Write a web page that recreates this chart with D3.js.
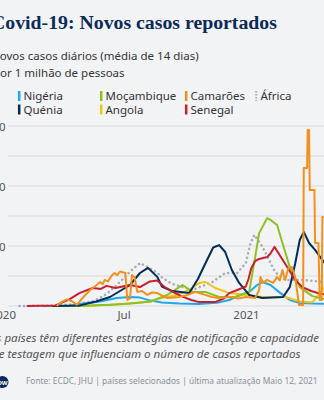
<!DOCTYPE html>
<html>
<head>
<meta charset="utf-8">
<script src="https://cdn.jsdelivr.net/npm/d3@7"></script>
<style>
  body { margin: 0; background: #f2f3f5; }
  svg { display: block; }
</style>
</head>
<body>
<script>
/* Covid-19 : novos casos por milhao (media 14 dias) */

var widthMax = 324;
var heightMax = 400;

var countries = ["Nigéria", "Quénia", "Moçambique", "Angola", "Camarões", "Senegal", "África"];
var colors = ["#1ba8ee", "#002b5c", "#8bc220", "#f1c319", "#f3901c", "#c8202f", "#a8acb1"];

var nigeria = [["2020-03-01",0],["2020-04-10",0.1],["2020-05-01",0.8],["2020-05-26",1.5],["2020-06-20",2.7],["2020-07-10",3],["2020-07-25",2.8],["2020-08-10",1.8],["2020-08-27",1.2],["2020-09-22",0.8],["2020-10-22",0.7],["2020-11-21",1.2],["2020-12-06",2],["2020-12-21",3.5],["2021-01-05",4.7],["2021-01-17",7],["2021-01-25",8],["2021-02-06",7],["2021-02-21",4.3],["2021-03-07",2],["2021-03-22",1],["2021-04-10",0.8],["2021-05-10",0.7]];
var quenia = [["2020-03-15",0],["2020-04-26",0.2],["2020-05-20",1.5],["2020-06-10",3],["2020-06-25",5],["2020-07-10",7],["2020-07-25",11],["2020-08-06",12.7],["2020-08-20",9.7],["2020-08-27",6.5],["2020-09-11",5],["2020-10-07",4.3],["2020-10-20",9],["2020-11-02",15],["2020-11-12",19.5],["2020-11-21",20.3],["2020-11-30",18],["2020-12-10",12],["2020-12-21",7.7],["2021-01-05",3.7],["2021-01-25",2.7],["2021-02-25",3],["2021-03-07",6.3],["2021-03-15",14],["2021-03-22",22],["2021-03-28",24.7],["2021-04-05",21],["2021-04-14",18.7],["2021-04-25",15.3],["2021-05-10",11]];
var mocambique = [["2020-03-22",0],["2020-05-01",0.1],["2020-06-10",0.4],["2020-07-10",0.8],["2020-08-10",1.5],["2020-09-04",3.7],["2020-09-27",7],["2020-10-12",4.7],["2020-10-31",4.7],["2020-11-21",3],["2020-12-15",3],["2021-01-05",4.7],["2021-01-14",16.3],["2021-01-20",24.3],["2021-02-01",29.3],["2021-02-06",28.7],["2021-02-16",27],["2021-02-24",21],["2021-03-07",13],["2021-03-22",6.3],["2021-04-10",3.3],["2021-04-28",2.3],["2021-05-10",2.2]];
var angola = [["2020-03-22",0],["2020-05-10",0.1],["2020-06-20",0.5],["2020-07-20",1],["2020-08-10",1.5],["2020-08-27",2.7],["2020-09-15",3.5],["2020-10-07",5.3],["2020-10-22",7.7],["2020-10-31",8],["2020-11-15",6],["2020-12-06",4.3],["2020-12-31",3.7],["2021-01-25",3],["2021-02-28",3],["2021-03-22",1.5],["2021-04-10",1.2],["2021-04-20",4],["2021-04-28",6.3],["2021-05-10",7.5]];
var camaroes = [["2020-03-22",0],["2020-03-27",1],["2020-04-06",2.2],["2020-04-14",1.6],["2020-04-21",0.4],["2020-05-01",3],["2020-05-12",5.5],["2020-05-21",7],["2020-05-26",8],["2020-05-30",7.3],["2020-06-02",8.7],["2020-06-07",8.2],["2020-06-12",10],["2020-06-17",11],["2020-06-21",10.3],["2020-06-25",11.5],["2020-07-03",11],["2020-07-06",2],["2020-07-10",2.5],["2020-07-13",10.3],["2020-07-17",9.5],["2020-07-21",4.7],["2020-07-28",5],["2020-08-05",3.7],["2020-08-12",4.5],["2020-08-20",4.3],["2020-09-04",2.7],["2020-09-22",3],["2020-10-05",3.7],["2020-10-16",4.7],["2020-10-31",3.7],["2020-11-10",3],["2020-11-21",2.7],["2020-12-06",3],["2020-12-20",2.5],["2020-12-31",3],["2021-01-14",2.7],["2021-01-20",5.3],["2021-01-22",9.7],["2021-01-26",7.7],["2021-02-01",8.7],["2021-02-10",7.7],["2021-02-16",9.7],["2021-02-20",8.5],["2021-02-24",12],["2021-02-28",8.7],["2021-03-05",12.7],["2021-03-10",13],["2021-03-15",9.7],["2021-03-21",0.3],["2021-03-27",0.3],["2021-03-28",46],["2021-04-02",46],["2021-04-03",58.7],["2021-04-05",58.7],["2021-04-06",38.7],["2021-04-13",38.7],["2021-04-14",21],["2021-04-19",21],["2021-04-21",2],["2021-04-24",2],["2021-04-25",29.7],["2021-05-10",29.7]];
var senegal = [["2020-02-06",0],["2020-03-20",0.2],["2020-04-10",2.2],["2020-04-25",4.3],["2020-05-15",6],["2020-05-27",5.7],["2020-06-05",6.7],["2020-06-18",6],["2020-07-10",7],["2020-07-25",6.3],["2020-08-09",8.2],["2020-08-20",8.5],["2020-08-30",6.5],["2020-09-10",5],["2020-09-25",3.3],["2020-10-10",2],["2020-10-22",1.3],["2020-11-15",1.3],["2020-11-28",2.5],["2020-12-06",4.3],["2020-12-20",5.5],["2020-12-31",6.5],["2021-01-04",9],["2021-01-08",12.5],["2021-01-14",15],["2021-01-20",15.7],["2021-02-01",16.3],["2021-02-06",17.5],["2021-02-12",19.7],["2021-02-24",15.5],["2021-03-06",12],["2021-03-14",9],["2021-03-26",6.3],["2021-04-08",5],["2021-04-20",4.2],["2021-05-10",3.5]];
var africa = [["2020-01-26",0],["2020-03-11",0.1],["2020-04-11",0.5],["2020-05-15",1.5],["2020-06-05",4],["2020-06-25",8],["2020-07-10",11.5],["2020-07-25",14.3],["2020-08-06",13],["2020-08-20",11],["2020-08-27",9.5],["2020-09-10",7.5],["2020-10-12",5.3],["2020-11-11",8],["2020-11-30",11],["2020-12-18",11],["2020-12-31",14.3],["2021-01-07",21],["2021-01-13",23.7],["2021-01-25",19.7],["2021-02-04",15.3],["2021-02-13",11.3],["2021-02-28",8.7],["2021-03-25",8.7],["2021-04-28",8],["2021-05-10",7.7]];

var series = [nigeria, quenia, mocambique, angola, camaroes, senegal, africa];

var yTicks = [10, 20, 30, 40, 50, 60];
var yLabels = [20, 40, 60];
var xTicks = [["2020-01-01", "2020"], ["2020-07-01", "Jul"], ["2021-01-01", "2021"]];

var parse = d3.timeParse("%Y-%m-%d");
var sans = "'Noto Sans', 'Open Sans', sans-serif";

var svgContainer = d3.select("body").append("svg")
	.attr("width", widthMax)
	.attr("height", heightMax);

var x = d3.scaleTime()
	.domain([parse("2020-07-01"), parse("2021-01-01")])
	.range([124, 246.5]);

var y = d3.scaleLinear()
	.domain([0, 60])
	.range([306, 126]);

// titre
svgContainer.append("text")
	.attr("x", -9)
	.attr("y", 29)
	.attr("font-family", "'Liberation Serif', serif")
	.attr("font-weight", "bold")
	.attr("font-size", 19.8)
	.attr("fill", "#0b2a57")
	.text("Covid-19: Novos casos reportados");

svgContainer.append("text")
	.attr("x", -9)
	.attr("y", 60)
	.attr("font-family", sans)
	.attr("font-size", 11.5)
	.attr("fill", "#333")
	.text("Novos casos diários (média de 14 dias)");

svgContainer.append("text")
	.attr("x", -7)
	.attr("y", 77)
	.attr("font-family", sans)
	.attr("font-size", 11.5)
	.attr("fill", "#333")
	.text("por 1 milhão de pessoas");

// legende
var legendPos = [[18, 96], [18, 109.5], [100, 96], [100, 109.5], [185, 96], [185, 109.5], [255, 96]];
var legend = svgContainer.selectAll(".leg")
	.data(countries)
	.enter().append("g")
	.attr("transform", function(d, i) { return "translate(" + legendPos[i][0] + "," + legendPos[i][1] + ")"; });

legend.append("line")
	.attr("x1", 1.2).attr("x2", 1.2)
	.attr("y1", -5).attr("y2", 5)
	.attr("stroke", function(d, i) { return colors[i]; })
	.attr("stroke-width", function(d, i) { return i == 6 ? 2 : 2.5; })
	.attr("stroke-dasharray", function(d, i) { return i == 6 ? "1.5 1.5" : null; });

legend.append("text")
	.attr("x", 5.5)
	.attr("y", 4)
	.attr("font-family", sans)
	.attr("font-size", 11.5)
	.attr("fill", "#333")
	.text(function(d) { return d; });

// grille
svgContainer.selectAll(".grid")
	.data([0].concat(yTicks))
	.enter().append("line")
	.attr("x1", 8)
	.attr("x2", widthMax)
	.attr("y1", function(d) { return y(d); })
	.attr("y2", function(d) { return y(d); })
	.attr("stroke", "#d8dbdf")
	.attr("stroke-width", 1);

svgContainer.selectAll(".ylab")
	.data(yLabels)
	.enter().append("text")
	.attr("x", 5.5)
	.attr("y", function(d) { return y(d) + 4.5; })
	.attr("text-anchor", "end")
	.attr("font-family", sans)
	.attr("font-size", 11.5)
	.attr("fill", "#555")
	.text(function(d) { return d; });

svgContainer.selectAll(".xlab")
	.data(xTicks)
	.enter().append("text")
	.attr("x", function(d) { return x(parse(d[0])); })
	.attr("y", 318.5)
	.attr("text-anchor", "middle")
	.attr("font-family", sans)
	.attr("font-size", 11.5)
	.attr("fill", "#555")
	.text(function(d) { return d[1]; });

// courbes
var line = d3.line()
	.x(function(d) { return x(parse(d[0])); })
	.y(function(d) { return y(d[1]); });

var drawOrder = [6, 0, 3, 2, 1, 5, 4];
drawOrder.forEach(function(i) {
	svgContainer.append("path")
		.attr("d", line(series[i]))
		.attr("fill", "none")
		.attr("stroke", colors[i])
		.attr("stroke-width", i == 6 ? 2.5 : 2)
		.attr("stroke-linejoin", "round")
		.attr("stroke-linecap", i == 6 ? "round" : "butt")
		.attr("stroke-dasharray", i == 6 ? "0.1 4.5" : null);
});

// note
svgContainer.append("text")
	.attr("x", -12)
	.attr("y", 342)
	.attr("font-family", sans)
	.attr("font-style", "italic")
	.attr("font-size", 11.6)
	.attr("fill", "#555")
	.text("Os países têm diferentes estratégias de notificação e capacidade");

svgContainer.append("text")
	.attr("x", -8)
	.attr("y", 358)
	.attr("font-family", sans)
	.attr("font-style", "italic")
	.attr("font-size", 11.6)
	.attr("fill", "#555")
	.text("de testagem que influenciam o número de casos reportados");

// logo + source
svgContainer.append("circle")
	.attr("cx", 2.5)
	.attr("cy", 382)
	.attr("r", 6)
	.attr("fill", "#0b2a57");

svgContainer.append("text")
	.attr("x", 2.5)
	.attr("y", 384.5)
	.attr("text-anchor", "middle")
	.attr("font-family", sans)
	.attr("font-weight", "bold")
	.attr("font-size", 6)
	.attr("fill", "#fff")
	.text("DW");

svgContainer.append("text")
	.attr("x", 26)
	.attr("y", 384)
	.attr("font-family", sans)
	.attr("font-size", 8.4)
	.attr("fill", "#8a8f96")
	.text("Fonte: ECDC, JHU | países selecionados | última atualização Maio 12, 2021");
</script>
</body>
</html>
